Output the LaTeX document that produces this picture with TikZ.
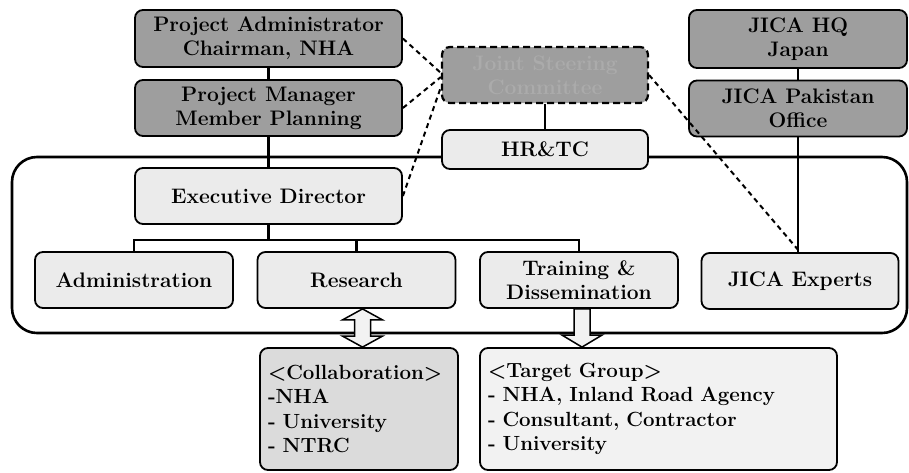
\documentclass[tikz,border=0pt]{standalone}
\usepackage{tikz}
\usetikzlibrary{positioning,calc}
\definecolor{boxdark}{gray}{0.62}
\definecolor{boxlight}{gray}{0.92}
\definecolor{boxmid}{gray}{0.86}
\definecolor{boxpale}{gray}{0.95}

\begin{document}
\begin{tikzpicture}[x=1pt,y=-1pt,on grid,node distance=70pt,
   box/.style={draw,line width=1.8pt,rounded corners=8pt,align=center,inner sep=2pt,
      font=\fontsize{21}{24}\selectfont\bfseries},
   dark/.style={box,fill=boxdark},
   light/.style={box,fill=boxlight,minimum width=198pt,minimum height=56pt},
   steer/.style={dark,line width=2.2pt,dash pattern=on 7pt off 4pt,text=black!33},
   listbox/.style={box,align=left,inner sep=8pt,minimum height=122pt,
      font=\fontsize{20.5}{24.5}\selectfont\bfseries},
   link/.style={line width=2.2pt},
   dashlink/.style={line width=2pt,dash pattern=on 5pt off 4pt},
   blockarrow/.style={draw,line width=1.5pt,fill=boxpale,line join=miter}]
   \useasboundingbox (0,0) rectangle (909,472);

   % frame of the centre
   \draw[line width=2.6pt,rounded corners=25pt] (12,157) rectangle (907,333);

   \node[dark,minimum width=267pt,minimum height=57pt] (pa) at (268.5,38.5) {Project Administrator\\Chairman, NHA};
   \node[dark,minimum width=267pt,minimum height=56pt] (pm) [below=69.5pt of pa] {Project Manager\\Member Planning};
   \node[light,minimum width=267pt] (ed) [below=88pt of pm] {Executive Director};
   \node[steer,minimum width=206pt,minimum height=56pt] (jsc) at (545,75) {Joint Steering\\Committee};
   \node[light,minimum width=206pt,minimum height=39pt] (hr) [below=74.5pt of jsc] {HR\&TC};
   \node[dark,minimum width=218pt,minimum height=58pt] (jhq) at (798,39) {JICA HQ\\Japan};
   \node[dark,minimum width=218pt,minimum height=56pt] (jpk) [below=69.5pt of jhq] {JICA Pakistan\\Office};

   \node[light] (adm) at (134,280) {Administration};
   \node[light] (res) [right=222.5pt of adm] {Research};
   \node[light] (trn) [right=222.5pt of res] {Training \&\\Dissemination};
   \node[light,minimum width=197pt] (jex) at (800,281) {JICA Experts};

   \node[listbox,fill=boxmid,text width=182pt] (col) at (359,409)
      {<Collaboration>\\-NHA\\- University\\- NTRC};
   \node[listbox,fill=boxpale,text width=341pt] (tgt) at (658.5,409)
      {<Target Group>\\- NHA, Inland Road Agency\\- Consultant, Contractor\\- University};

   \draw[link] (pa) -- (pm) (pm) -- (ed) (jsc) -- (hr) (jhq) -- (jpk);
   \draw[link] (jpk.south) -- (jpk.south |- jex.north);
   \draw[link] (ed.south) -- ++(0,15) coordinate (bus);
   \draw[link] (adm.north) |- (bus) -| (trn.north);
   \draw[link] (res.north) -- (res.north |- bus);

   \draw[dashlink] (pa.east) -- ($(jsc.west)+(0,-2)$);
   \draw[dashlink] (pm.east) -- ($(jsc.west)+(0,2)$);
   \draw[dashlink] (ed.east) -- ($(jsc.west)+(0,12)$);
   \draw[dashlink] (jsc.east) -- (jex.north);

   % hollow arrows
   \path (res.south) ++(6,0) coordinate (ra) (col.north -| ra) coordinate (rb);
   \path (trn.south) ++(3,0) coordinate (ta) (tgt.north -| ta) coordinate (tb);
   \draw[blockarrow] (ra) -- ++(20,11) -- ++(-12,0) -- ($(rb)+(8,-11)$) -- ++(12,0) -- (rb)
      -- ++(-20,-11) -- ++(12,0) -- ($(ra)+(-8,11)$) -- ++(-12,0) -- cycle;
   \draw[blockarrow] ($(ta)+(-8,0)$) -- ($(tb)+(-8,-12)$) -- ++(-12,0) -- (tb)
      -- ++(20,-12) -- ++(-12,0) -- ($(ta)+(8,0)$) -- cycle;
\end{tikzpicture}
\end{document}
